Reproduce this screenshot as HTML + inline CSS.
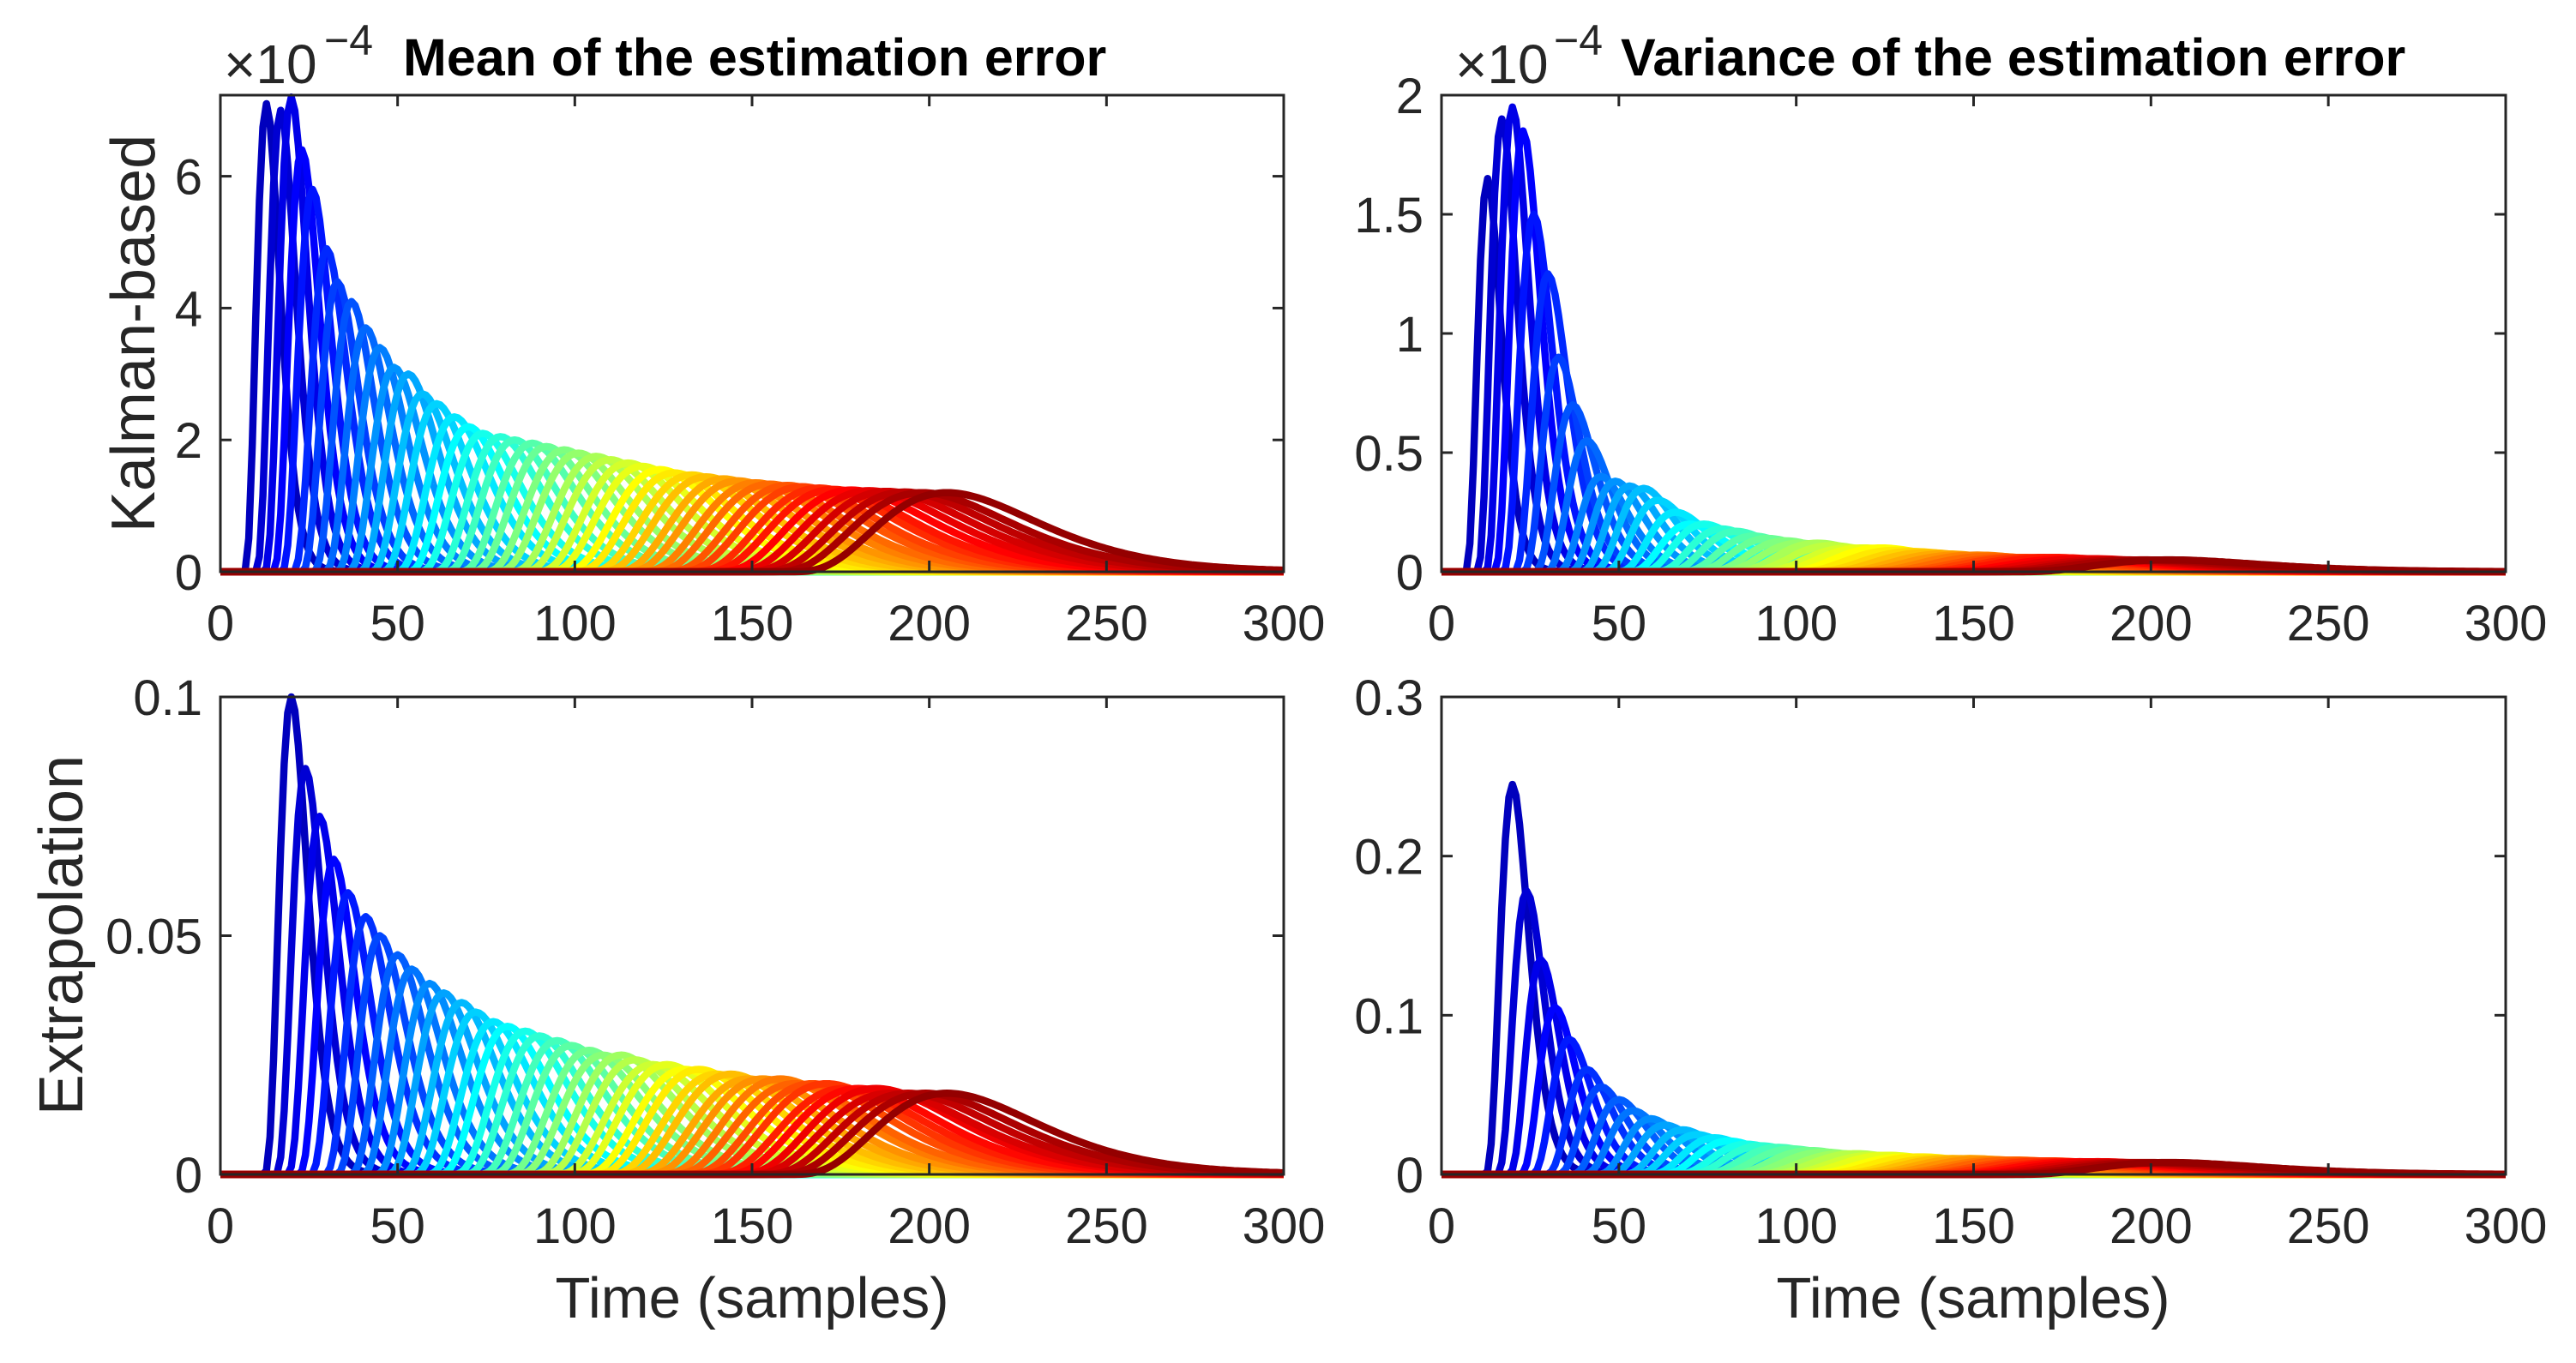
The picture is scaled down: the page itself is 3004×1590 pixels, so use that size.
<!DOCTYPE html>
<html><head><meta charset="utf-8"><style>
html,body{margin:0;padding:0;background:#fff;}
svg{display:block;}
text{font-family:"Liberation Sans",sans-serif;fill:#262626;}
</style></head><body>
<svg id="fig" width="3004" height="1590" viewBox="0 0 3004 1590" xmlns="http://www.w3.org/2000/svg"></svg>
<script>
// ---- data ----
const timeTicks = [0,50,100,150,200,250,300];
const peakTimesTop = [13,17,20,23,26,30,33,37,41,45,49,53,57,61,66,70,74,79,83,88,92,97,101,106,110,115,119,124,128,133,137,142,146,151,155,160,164,169,173,178,183,188,193,198,205];
const meanKalmanPeaks = [7.1,7.0,7.2,6.4,5.8,4.9,4.4,4.1,3.7,3.4,3.1,3.0,2.7,2.55,2.35,2.2,2.1,2.05,2.0,1.95,1.9,1.85,1.8,1.75,1.7,1.65,1.6,1.55,1.5,1.47,1.44,1.41,1.38,1.35,1.33,1.31,1.29,1.27,1.25,1.24,1.23,1.22,1.21,1.2,1.2];
const varKalmanPeaks = [1.65,1.9,1.95,1.85,1.5,1.25,0.9,0.7,0.55,0.4,0.38,0.36,0.35,0.3,0.25,0.2,0.2,0.18,0.17,0.15,0.14,0.13,0.12,0.12,0.11,0.1,0.1,0.1,0.09,0.085,0.08,0.075,0.07,0.07,0.065,0.06,0.06,0.06,0.06,0.055,0.055,0.05,0.05,0.05,0.05];
const peakTimesBottom = [20,24,28,32,36,41,45,50,54,59,63,68,72,77,81,86,90,95,99,104,108,113,117,122,126,131,135,140,144,149,153,158,162,167,171,176,180,185,189,194,199,205];
const meanExtrapPeaks = [0.1,0.085,0.075,0.066,0.059,0.054,0.05,0.046,0.043,0.04,0.038,0.036,0.034,0.032,0.031,0.03,0.029,0.028,0.027,0.026,0.025,0.025,0.024,0.023,0.023,0.022,0.022,0.021,0.021,0.02,0.02,0.02,0.019,0.019,0.019,0.018,0.018,0.018,0.017,0.017,0.017,0.017];
const varExtrapPeaks = [0.245,0.178,0.135,0.105,0.085,0.066,0.055,0.047,0.04,0.035,0.031,0.028,0.025,0.023,0.021,0.019,0.018,0.017,0.016,0.015,0.014,0.013,0.013,0.012,0.012,0.011,0.011,0.01,0.01,0.01,0.0095,0.009,0.009,0.0085,0.0085,0.008,0.008,0.008,0.0075,0.0075,0.0075,0.0075];
const ticksTL = [0,2,4,6], labelsTL = ["0","2","4","6"];
const ticksTR = [0,0.5,1,1.5,2], labelsTR = ["0","0.5","1","1.5","2"];
const ticksBL = [0,0.05,0.1], labelsBL = ["0","0.05","0.1"];
const ticksBR = [0,0.1,0.2,0.3], labelsBR = ["0","0.1","0.2","0.3"];

const NS="http://www.w3.org/2000/svg";
const svg=document.getElementById('fig');
function mk(tag,attrs,parent){const e=document.createElementNS(NS,tag);for(const k in attrs)e.setAttribute(k,attrs[k]);(parent||svg).appendChild(e);return e;}
function jet(v){
  const r=Math.min(Math.max(Math.min(4*v-1.5,-4*v+4.5),0),1);
  const g=Math.min(Math.max(Math.min(4*v-0.5,-4*v+3.5),0),1);
  const b=Math.min(Math.max(Math.min(4*v+0.5,-4*v+2.5),0),1);
  return `rgb(${Math.round(r*255)},${Math.round(g*255)},${Math.round(b*255)})`;
}
function shape(t,p){const w=0.2*p+4;const t0=p-w;if(t<=t0)return 0;const s=(t-t0)/w;return Math.pow(s,4)*Math.exp(4*(1-s));}

function panel(name,x0,x1,y0,y1,ymax,ticks,labels,times,peaks){
  const g=mk('g',{});
  
  
  const X=t=>x0+(t/300)*(x1-x0);
  const Y=v=>y1-(v/ymax)*(y1-y0);
  const n=times.length;
  const cg=mk('g',{},g);
  
  
  for(let i=0;i<n;i++){
    let d='';
    for(let t=0;t<=300;t+=1){const v=peaks[i]*shape(t,times[i]);d+=(t?'L':'M')+X(t).toFixed(1)+','+Y(v).toFixed(1);}
    const p=mk('path',{d:d,fill:'none',stroke:jet(0.06+0.92*i/(n-1)),'stroke-width':8.5,'stroke-linejoin':'round'},cg);
    
    
  }
  const box=mk('rect',{x:x0,y:y0,width:x1-x0,height:y1-y0,fill:'none',stroke:'#262626','stroke-width':3},g);
  
  
  timeTicks.forEach(t=>{
    mk('line',{x1:X(t),x2:X(t),y1:y1,y2:y1-13,stroke:'#262626','stroke-width':3},g);
    mk('line',{x1:X(t),x2:X(t),y1:y0,y2:y0+13,stroke:'#262626','stroke-width':3},g);
    const tx=mk('text',{x:X(t),y:y1+80,'font-size':58,'text-anchor':'middle'},g);
    tx.textContent=String(t);
    
    
  });
  ticks.forEach((v,i)=>{
    mk('line',{x1:x0,x2:x0+13,y1:Y(v),y2:Y(v),stroke:'#262626','stroke-width':3},g);
    mk('line',{x1:x1,x2:x1-13,y1:Y(v),y2:Y(v),stroke:'#262626','stroke-width':3},g);
    const ty=mk('text',{x:x0-21,y:Y(v)+21,'font-size':58,'text-anchor':'end'},g);
    ty.textContent=labels[i];
    
    
  });
}
panel('panel-mean-kalman',257,1497,111,667,7.23,ticksTL,labelsTL,peakTimesTop,meanKalmanPeaks);
panel('panel-variance-kalman',1681,2922,111,667,2,ticksTR,labelsTR,peakTimesTop,varKalmanPeaks);
panel('panel-mean-extrapolation',257,1497,813,1370,0.1,ticksBL,labelsBL,peakTimesBottom,meanExtrapPeaks);
panel('panel-variance-extrapolation',1681,2922,813,1370,0.3,ticksBR,labelsBR,peakTimesBottom,varExtrapPeaks);
</script>
<svg style="position:absolute;left:0;top:0" width="3004" height="1590">
<text x="261" y="97" font-size="64">×10</text>
<text x="378" y="64" font-size="50">−4</text>
<text x="470" y="88" font-size="61" font-weight="bold" style="fill:#000">Mean of the estimation error</text>
<text x="1697" y="97" font-size="64">×10</text>
<text x="1812" y="64" font-size="50">−4</text>
<text x="1890" y="88" font-size="61" font-weight="bold" style="fill:#000">Variance of the estimation error</text>
<text transform="translate(180,389) rotate(-90)" text-anchor="middle" font-size="72">Kalman-based</text>
<text transform="translate(96,1091) rotate(-90)" text-anchor="middle" font-size="72">Extrapolation</text>
<text x="877" y="1537" text-anchor="middle" font-size="67">Time (samples)</text>
<text x="2301" y="1537" text-anchor="middle" font-size="67">Time (samples)</text>
</svg>
</body></html>
